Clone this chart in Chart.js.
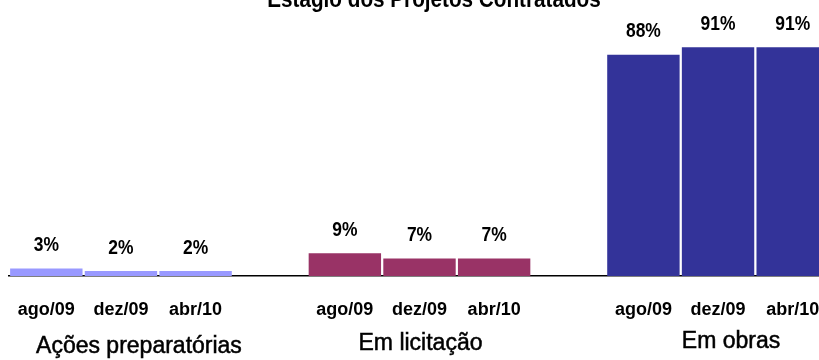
<!DOCTYPE html>
<html lang="pt-BR">
<head>
<meta charset="utf-8">
<title>Estágio dos Projetos Contratados</title>
<script src="https://cdn.jsdelivr.net/npm/chart.js@4"></script>
<style>
  html, body { margin: 0; padding: 0; background: #fff; overflow: hidden; }
  #wrap { position: relative; width: 819px; height: 360px; overflow: hidden; }
  #stageChart { position: absolute; left: 0; top: 0; }
</style>
</head>
<body>
<div id="wrap"><canvas id="stageChart" width="845" height="360"></canvas></div>
<script>
const title = "Estágio dos Projetos Contratados";
const groups = ["Ações preparatórias", "Em licitação", "Em obras"];
const periods = ["ago/09", "dez/09", "abr/10"];
const prepValues = [3, 2, 2];
const biddingValues = [9, 7, 7];
const worksValues = [88, 91, 91];
const groupColors = ["#9999ff", "#993366", "#333399"];

// one slot per month, plus an empty slot between groups
const labels = [];
const values = [];
const colors = [];
[prepValues, biddingValues, worksValues].forEach((series, g) => {
    if (g > 0) {
        labels.push("");
        values.push(null);
        colors.push("rgba(0,0,0,0)");
    }
    series.forEach((v, i) => {
        labels.push(periods[i]);
        values.push(v);
        colors.push(groupColors[g]);
    });
});

// group captions sit a bit off-centre, as in the slide
const groupCaptionPos = [
    { dx: 18, y: 353 },
    { dx: 1, y: 350 },
    { dx: 13, y: 348 }
];

// narrow bold text: squeeze Liberation Sans horizontally
function narrowText(ctx, text, x, y, squeeze) {
    ctx.save();
    ctx.translate(x, y);
    ctx.scale(squeeze, 1);
    ctx.fillText(text, 0, 0);
    ctx.restore();
}

const textPlugin = {
    id: "textPlugin",
    afterDatasetsDraw(chart) {
        const ctx = chart.ctx;
        const meta = chart.getDatasetMeta(0);
        ctx.save();
        ctx.fillStyle = "#000";
        ctx.strokeStyle = "#000";
        ctx.textAlign = "center";

        // value labels above the bars
        ctx.textBaseline = "middle";
        ctx.font = "bold 21px 'Liberation Sans', Arial, sans-serif";
        meta.data.forEach((bar, i) => {
            if (values[i] == null) return;
            narrowText(ctx, values[i] + "%", bar.x, bar.y - 23, 0.83);
        });

        // group captions under the month labels, slightly heavier than regular
        ctx.textBaseline = "alphabetic";
        ctx.font = "23px 'Liberation Sans', Arial, sans-serif";
        ctx.lineWidth = 0.5;
        groups.forEach((name, g) => {
            const mid = meta.data[g * 4 + 1];
            const x = mid.x + groupCaptionPos[g].dx;
            ctx.fillText(name, x, groupCaptionPos[g].y);
            ctx.strokeText(name, x, groupCaptionPos[g].y);
        });

        // title, partly above the top edge
        ctx.font = "bold 23px 'Liberation Sans', Arial, sans-serif";
        narrowText(ctx, title, 434, 6.5, 0.9);
        ctx.restore();
    }
};

new Chart(document.getElementById("stageChart"), {
    type: "bar",
    data: {
        labels: labels,
        datasets: [{
            data: values,
            backgroundColor: colors,
            borderWidth: 0,
            barPercentage: 0.97,
            categoryPercentage: 1
        }]
    },
    options: {
        responsive: false,
        animation: false,
        layout: { padding: { left: 9, right: 15, top: 24.5, bottom: 36.4 } },
        plugins: {
            legend: { display: false },
            tooltip: { enabled: false },
            title: { display: false }
        },
        scales: {
            x: {
                // hidden tick marks still push the labels down
                grid: { display: false, drawTicks: true, tickLength: 20 },
                border: { display: true, color: "#000", width: 1.5 },
                ticks: {
                    color: "#000",
                    padding: 3,
                    autoSkip: false,
                    maxRotation: 0,
                    font: { family: "'Liberation Sans', Arial, sans-serif", size: 18, weight: "bold" }
                }
            },
            y: {
                display: false,
                min: 0,
                max: 100
            }
        }
    },
    plugins: [textPlugin]
});
</script>
</body>
</html>
